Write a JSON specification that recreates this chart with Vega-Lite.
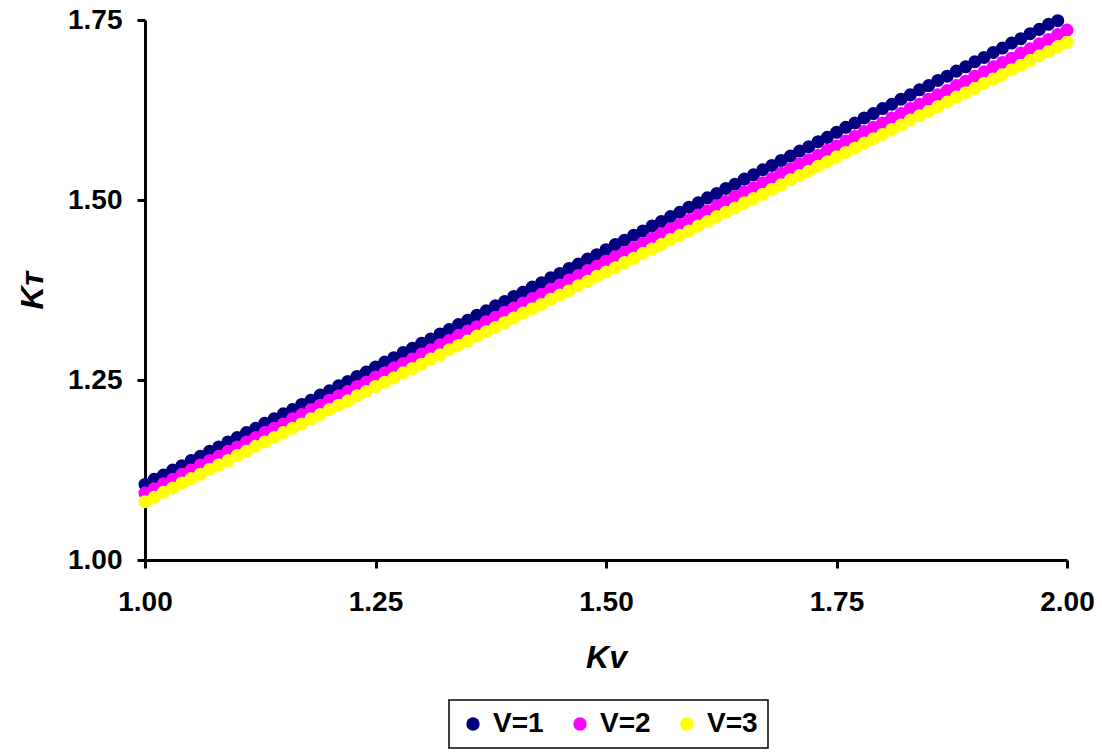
{
  "$schema": "https://vega.github.io/schema/vega-lite/v6.json",
  "width": 922,
  "height": 540,
  "autosize": "none",
  "padding": {"left": 145, "top": 20, "right": 35, "bottom": 193},
  "background": "white",
  "config": {
    "view": {"stroke": null},
    "font": "Liberation Sans",
    "axis": {
      "domainColor": "black", "domainWidth": 3, "tickColor": "black", "tickWidth": 3, "tickSize": 8,
      "grid": false, "labelFont": "Liberation Sans", "labelFontWeight": "bold", "labelFontSize": 28, "labelColor": "black", "labelFlush": false,
      "titleFont": "Liberation Sans", "titleFontWeight": "bold", "titleFontStyle": "italic", "titleFontSize": 32, "titleColor": "black"
    }
  },
  "data": {"values": [
    {"k":1.00,"s":"V=1","t":1.105},{"k":1.01,"s":"V=1","t":1.112},{"k":1.02,"s":"V=1","t":1.118},{"k":1.03,"s":"V=1","t":1.125},{"k":1.04,"s":"V=1","t":1.131},{"k":1.05,"s":"V=1","t":1.138},{"k":1.06,"s":"V=1","t":1.144},{"k":1.07,"s":"V=1","t":1.151},{"k":1.08,"s":"V=1","t":1.157},{"k":1.09,"s":"V=1","t":1.164},
    {"k":1.10,"s":"V=1","t":1.170},{"k":1.11,"s":"V=1","t":1.177},{"k":1.12,"s":"V=1","t":1.183},{"k":1.13,"s":"V=1","t":1.190},{"k":1.14,"s":"V=1","t":1.196},{"k":1.15,"s":"V=1","t":1.203},{"k":1.16,"s":"V=1","t":1.209},{"k":1.17,"s":"V=1","t":1.216},{"k":1.18,"s":"V=1","t":1.222},{"k":1.19,"s":"V=1","t":1.229},
    {"k":1.20,"s":"V=1","t":1.235},{"k":1.21,"s":"V=1","t":1.242},{"k":1.22,"s":"V=1","t":1.248},{"k":1.23,"s":"V=1","t":1.255},{"k":1.24,"s":"V=1","t":1.261},{"k":1.25,"s":"V=1","t":1.268},{"k":1.26,"s":"V=1","t":1.275},{"k":1.27,"s":"V=1","t":1.281},{"k":1.28,"s":"V=1","t":1.288},{"k":1.29,"s":"V=1","t":1.294},
    {"k":1.30,"s":"V=1","t":1.301},{"k":1.31,"s":"V=1","t":1.307},{"k":1.32,"s":"V=1","t":1.314},{"k":1.33,"s":"V=1","t":1.320},{"k":1.34,"s":"V=1","t":1.327},{"k":1.35,"s":"V=1","t":1.333},{"k":1.36,"s":"V=1","t":1.340},{"k":1.37,"s":"V=1","t":1.346},{"k":1.38,"s":"V=1","t":1.353},{"k":1.39,"s":"V=1","t":1.359},
    {"k":1.40,"s":"V=1","t":1.366},{"k":1.41,"s":"V=1","t":1.372},{"k":1.42,"s":"V=1","t":1.379},{"k":1.43,"s":"V=1","t":1.385},{"k":1.44,"s":"V=1","t":1.392},{"k":1.45,"s":"V=1","t":1.398},{"k":1.46,"s":"V=1","t":1.405},{"k":1.47,"s":"V=1","t":1.411},{"k":1.48,"s":"V=1","t":1.418},{"k":1.49,"s":"V=1","t":1.424},
    {"k":1.50,"s":"V=1","t":1.431},{"k":1.51,"s":"V=1","t":1.438},{"k":1.52,"s":"V=1","t":1.444},{"k":1.53,"s":"V=1","t":1.451},{"k":1.54,"s":"V=1","t":1.457},{"k":1.55,"s":"V=1","t":1.464},{"k":1.56,"s":"V=1","t":1.470},{"k":1.57,"s":"V=1","t":1.477},{"k":1.58,"s":"V=1","t":1.483},{"k":1.59,"s":"V=1","t":1.490},
    {"k":1.60,"s":"V=1","t":1.496},{"k":1.61,"s":"V=1","t":1.503},{"k":1.62,"s":"V=1","t":1.509},{"k":1.63,"s":"V=1","t":1.516},{"k":1.64,"s":"V=1","t":1.522},{"k":1.65,"s":"V=1","t":1.529},{"k":1.66,"s":"V=1","t":1.535},{"k":1.67,"s":"V=1","t":1.542},{"k":1.68,"s":"V=1","t":1.548},{"k":1.69,"s":"V=1","t":1.555},
    {"k":1.70,"s":"V=1","t":1.561},{"k":1.71,"s":"V=1","t":1.568},{"k":1.72,"s":"V=1","t":1.574},{"k":1.73,"s":"V=1","t":1.581},{"k":1.74,"s":"V=1","t":1.587},{"k":1.75,"s":"V=1","t":1.594},{"k":1.76,"s":"V=1","t":1.601},{"k":1.77,"s":"V=1","t":1.607},{"k":1.78,"s":"V=1","t":1.614},{"k":1.79,"s":"V=1","t":1.620},
    {"k":1.80,"s":"V=1","t":1.627},{"k":1.81,"s":"V=1","t":1.633},{"k":1.82,"s":"V=1","t":1.640},{"k":1.83,"s":"V=1","t":1.646},{"k":1.84,"s":"V=1","t":1.653},{"k":1.85,"s":"V=1","t":1.659},{"k":1.86,"s":"V=1","t":1.666},{"k":1.87,"s":"V=1","t":1.672},{"k":1.88,"s":"V=1","t":1.679},{"k":1.89,"s":"V=1","t":1.685},
    {"k":1.90,"s":"V=1","t":1.692},{"k":1.91,"s":"V=1","t":1.698},{"k":1.92,"s":"V=1","t":1.705},{"k":1.93,"s":"V=1","t":1.711},{"k":1.94,"s":"V=1","t":1.718},{"k":1.95,"s":"V=1","t":1.724},{"k":1.96,"s":"V=1","t":1.731},{"k":1.97,"s":"V=1","t":1.737},{"k":1.98,"s":"V=1","t":1.744},{"k":1.99,"s":"V=1","t":1.749},
    {"k":1.00,"s":"V=2","t":1.093},{"k":1.01,"s":"V=2","t":1.099},{"k":1.02,"s":"V=2","t":1.106},{"k":1.03,"s":"V=2","t":1.112},{"k":1.04,"s":"V=2","t":1.119},{"k":1.05,"s":"V=2","t":1.125},{"k":1.06,"s":"V=2","t":1.132},{"k":1.07,"s":"V=2","t":1.138},{"k":1.08,"s":"V=2","t":1.144},{"k":1.09,"s":"V=2","t":1.151},
    {"k":1.10,"s":"V=2","t":1.157},{"k":1.11,"s":"V=2","t":1.164},{"k":1.12,"s":"V=2","t":1.170},{"k":1.13,"s":"V=2","t":1.177},{"k":1.14,"s":"V=2","t":1.183},{"k":1.15,"s":"V=2","t":1.189},{"k":1.16,"s":"V=2","t":1.196},{"k":1.17,"s":"V=2","t":1.202},{"k":1.18,"s":"V=2","t":1.209},{"k":1.19,"s":"V=2","t":1.215},
    {"k":1.20,"s":"V=2","t":1.222},{"k":1.21,"s":"V=2","t":1.228},{"k":1.22,"s":"V=2","t":1.234},{"k":1.23,"s":"V=2","t":1.241},{"k":1.24,"s":"V=2","t":1.247},{"k":1.25,"s":"V=2","t":1.254},{"k":1.26,"s":"V=2","t":1.260},{"k":1.27,"s":"V=2","t":1.267},{"k":1.28,"s":"V=2","t":1.273},{"k":1.29,"s":"V=2","t":1.279},
    {"k":1.30,"s":"V=2","t":1.286},{"k":1.31,"s":"V=2","t":1.292},{"k":1.32,"s":"V=2","t":1.299},{"k":1.33,"s":"V=2","t":1.305},{"k":1.34,"s":"V=2","t":1.312},{"k":1.35,"s":"V=2","t":1.318},{"k":1.36,"s":"V=2","t":1.324},{"k":1.37,"s":"V=2","t":1.331},{"k":1.38,"s":"V=2","t":1.337},{"k":1.39,"s":"V=2","t":1.344},
    {"k":1.40,"s":"V=2","t":1.350},{"k":1.41,"s":"V=2","t":1.357},{"k":1.42,"s":"V=2","t":1.363},{"k":1.43,"s":"V=2","t":1.369},{"k":1.44,"s":"V=2","t":1.376},{"k":1.45,"s":"V=2","t":1.382},{"k":1.46,"s":"V=2","t":1.389},{"k":1.47,"s":"V=2","t":1.395},{"k":1.48,"s":"V=2","t":1.402},{"k":1.49,"s":"V=2","t":1.408},
    {"k":1.50,"s":"V=2","t":1.415},{"k":1.51,"s":"V=2","t":1.421},{"k":1.52,"s":"V=2","t":1.427},{"k":1.53,"s":"V=2","t":1.434},{"k":1.54,"s":"V=2","t":1.440},{"k":1.55,"s":"V=2","t":1.447},{"k":1.56,"s":"V=2","t":1.453},{"k":1.57,"s":"V=2","t":1.460},{"k":1.58,"s":"V=2","t":1.466},{"k":1.59,"s":"V=2","t":1.472},
    {"k":1.60,"s":"V=2","t":1.479},{"k":1.61,"s":"V=2","t":1.485},{"k":1.62,"s":"V=2","t":1.492},{"k":1.63,"s":"V=2","t":1.498},{"k":1.64,"s":"V=2","t":1.505},{"k":1.65,"s":"V=2","t":1.511},{"k":1.66,"s":"V=2","t":1.517},{"k":1.67,"s":"V=2","t":1.524},{"k":1.68,"s":"V=2","t":1.530},{"k":1.69,"s":"V=2","t":1.537},
    {"k":1.70,"s":"V=2","t":1.543},{"k":1.71,"s":"V=2","t":1.550},{"k":1.72,"s":"V=2","t":1.556},{"k":1.73,"s":"V=2","t":1.562},{"k":1.74,"s":"V=2","t":1.569},{"k":1.75,"s":"V=2","t":1.575},{"k":1.76,"s":"V=2","t":1.582},{"k":1.77,"s":"V=2","t":1.588},{"k":1.78,"s":"V=2","t":1.595},{"k":1.79,"s":"V=2","t":1.601},
    {"k":1.80,"s":"V=2","t":1.607},{"k":1.81,"s":"V=2","t":1.614},{"k":1.82,"s":"V=2","t":1.620},{"k":1.83,"s":"V=2","t":1.627},{"k":1.84,"s":"V=2","t":1.633},{"k":1.85,"s":"V=2","t":1.640},{"k":1.86,"s":"V=2","t":1.646},{"k":1.87,"s":"V=2","t":1.652},{"k":1.88,"s":"V=2","t":1.659},{"k":1.89,"s":"V=2","t":1.665},
    {"k":1.90,"s":"V=2","t":1.672},{"k":1.91,"s":"V=2","t":1.678},{"k":1.92,"s":"V=2","t":1.685},{"k":1.93,"s":"V=2","t":1.691},{"k":1.94,"s":"V=2","t":1.697},{"k":1.95,"s":"V=2","t":1.704},{"k":1.96,"s":"V=2","t":1.710},{"k":1.97,"s":"V=2","t":1.717},{"k":1.98,"s":"V=2","t":1.723},{"k":1.99,"s":"V=2","t":1.730},{"k":2.00,"s":"V=2","t":1.736},
    {"k":1.00,"s":"V=3","t":1.081},{"k":1.01,"s":"V=3","t":1.087},{"k":1.02,"s":"V=3","t":1.094},{"k":1.03,"s":"V=3","t":1.100},{"k":1.04,"s":"V=3","t":1.107},{"k":1.05,"s":"V=3","t":1.113},{"k":1.06,"s":"V=3","t":1.119},{"k":1.07,"s":"V=3","t":1.126},{"k":1.08,"s":"V=3","t":1.132},{"k":1.09,"s":"V=3","t":1.138},
    {"k":1.10,"s":"V=3","t":1.145},{"k":1.11,"s":"V=3","t":1.151},{"k":1.12,"s":"V=3","t":1.158},{"k":1.13,"s":"V=3","t":1.164},{"k":1.14,"s":"V=3","t":1.170},{"k":1.15,"s":"V=3","t":1.177},{"k":1.16,"s":"V=3","t":1.183},{"k":1.17,"s":"V=3","t":1.189},{"k":1.18,"s":"V=3","t":1.196},{"k":1.19,"s":"V=3","t":1.202},
    {"k":1.20,"s":"V=3","t":1.209},{"k":1.21,"s":"V=3","t":1.215},{"k":1.22,"s":"V=3","t":1.221},{"k":1.23,"s":"V=3","t":1.228},{"k":1.24,"s":"V=3","t":1.234},{"k":1.25,"s":"V=3","t":1.241},{"k":1.26,"s":"V=3","t":1.247},{"k":1.27,"s":"V=3","t":1.253},{"k":1.28,"s":"V=3","t":1.260},{"k":1.29,"s":"V=3","t":1.266},
    {"k":1.30,"s":"V=3","t":1.272},{"k":1.31,"s":"V=3","t":1.279},{"k":1.32,"s":"V=3","t":1.285},{"k":1.33,"s":"V=3","t":1.292},{"k":1.34,"s":"V=3","t":1.298},{"k":1.35,"s":"V=3","t":1.304},{"k":1.36,"s":"V=3","t":1.311},{"k":1.37,"s":"V=3","t":1.317},{"k":1.38,"s":"V=3","t":1.323},{"k":1.39,"s":"V=3","t":1.330},
    {"k":1.40,"s":"V=3","t":1.336},{"k":1.41,"s":"V=3","t":1.343},{"k":1.42,"s":"V=3","t":1.349},{"k":1.43,"s":"V=3","t":1.355},{"k":1.44,"s":"V=3","t":1.362},{"k":1.45,"s":"V=3","t":1.368},{"k":1.46,"s":"V=3","t":1.374},{"k":1.47,"s":"V=3","t":1.381},{"k":1.48,"s":"V=3","t":1.387},{"k":1.49,"s":"V=3","t":1.394},
    {"k":1.50,"s":"V=3","t":1.400},{"k":1.51,"s":"V=3","t":1.406},{"k":1.52,"s":"V=3","t":1.413},{"k":1.53,"s":"V=3","t":1.419},{"k":1.54,"s":"V=3","t":1.426},{"k":1.55,"s":"V=3","t":1.432},{"k":1.56,"s":"V=3","t":1.438},{"k":1.57,"s":"V=3","t":1.445},{"k":1.58,"s":"V=3","t":1.451},{"k":1.59,"s":"V=3","t":1.457},
    {"k":1.60,"s":"V=3","t":1.464},{"k":1.61,"s":"V=3","t":1.470},{"k":1.62,"s":"V=3","t":1.477},{"k":1.63,"s":"V=3","t":1.483},{"k":1.64,"s":"V=3","t":1.489},{"k":1.65,"s":"V=3","t":1.496},{"k":1.66,"s":"V=3","t":1.502},{"k":1.67,"s":"V=3","t":1.508},{"k":1.68,"s":"V=3","t":1.515},{"k":1.69,"s":"V=3","t":1.521},
    {"k":1.70,"s":"V=3","t":1.528},{"k":1.71,"s":"V=3","t":1.534},{"k":1.72,"s":"V=3","t":1.540},{"k":1.73,"s":"V=3","t":1.547},{"k":1.74,"s":"V=3","t":1.553},{"k":1.75,"s":"V=3","t":1.560},{"k":1.76,"s":"V=3","t":1.566},{"k":1.77,"s":"V=3","t":1.572},{"k":1.78,"s":"V=3","t":1.579},{"k":1.79,"s":"V=3","t":1.585},
    {"k":1.80,"s":"V=3","t":1.591},{"k":1.81,"s":"V=3","t":1.598},{"k":1.82,"s":"V=3","t":1.604},{"k":1.83,"s":"V=3","t":1.611},{"k":1.84,"s":"V=3","t":1.617},{"k":1.85,"s":"V=3","t":1.623},{"k":1.86,"s":"V=3","t":1.630},{"k":1.87,"s":"V=3","t":1.636},{"k":1.88,"s":"V=3","t":1.643},{"k":1.89,"s":"V=3","t":1.649},
    {"k":1.90,"s":"V=3","t":1.655},{"k":1.91,"s":"V=3","t":1.662},{"k":1.92,"s":"V=3","t":1.668},{"k":1.93,"s":"V=3","t":1.674},{"k":1.94,"s":"V=3","t":1.681},{"k":1.95,"s":"V=3","t":1.687},{"k":1.96,"s":"V=3","t":1.694},{"k":1.97,"s":"V=3","t":1.700},{"k":1.98,"s":"V=3","t":1.706},{"k":1.99,"s":"V=3","t":1.713},{"k":2.00,"s":"V=3","t":1.719}
  ]},
  "mark": {"type": "circle", "size": 170, "opacity": 1},
  "encoding": {
    "x": {"field": "k", "type": "quantitative", "scale": {"domain": [1, 2], "zero": false, "nice": false},
      "axis": {"values": [1, 1.25, 1.5, 1.75, 2], "format": ".2f", "title": "Kᴠ", "labelPadding": 20, "titlePadding": 26}},
    "y": {"field": "t", "type": "quantitative", "scale": {"domain": [1, 1.75], "zero": false, "nice": false},
      "axis": {"values": [1, 1.25, 1.5, 1.75], "format": ".2f", "title": "Kᴛ", "labelPadding": 15, "titlePadding": 18}},
    "color": {"field": "s", "type": "nominal", "title": null,
      "scale": {"domain": ["V=1", "V=2", "V=3"], "range": ["#000080", "#FF00FF", "#FFFF00"]},
      "legend": {"orient": "none", "legendX": 304, "legendY": 680, "direction": "horizontal",
        "strokeColor": "black", "padding": 10, "symbolType": "circle", "symbolSize": 180,
        "symbolStrokeWidth": 0, "symbolOpacity": 1, "labelFont": "Liberation Sans", "labelFontWeight": "bold", "labelFontSize": 28,
        "labelColor": "black", "columnPadding": 22, "symbolOffset": 0, "labelOffset": 6, "fillColor": "white",
        "encode": {"legend": {"update": {"strokeWidth": {"value": 1.5}}}}}}
  }
}
